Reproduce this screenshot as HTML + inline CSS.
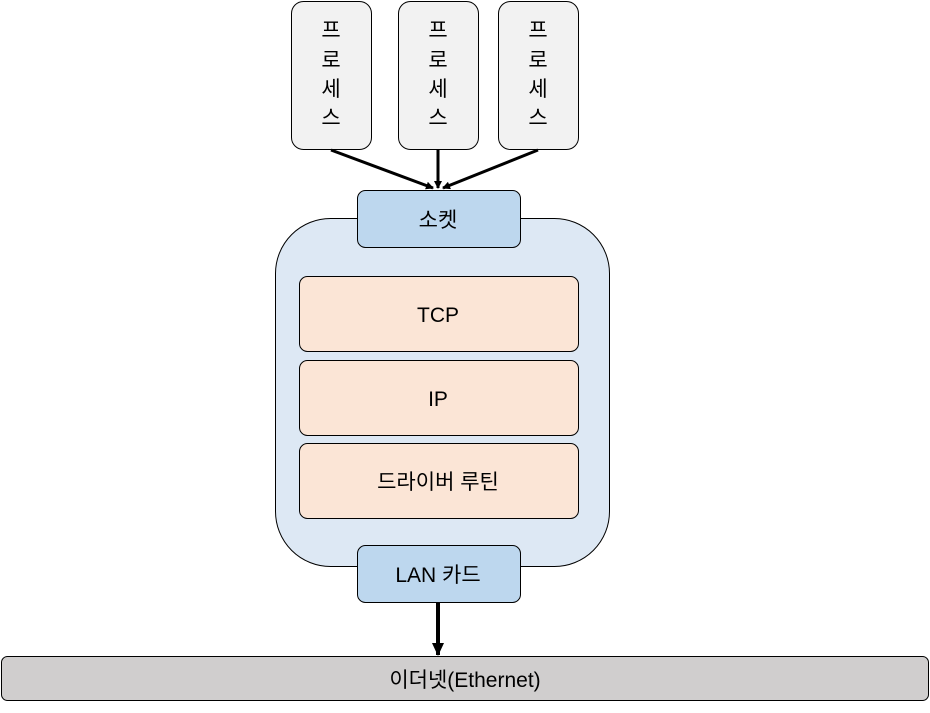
<!DOCTYPE html>
<html><head><meta charset="utf-8"><style>
body{margin:0;background:#fff;}
svg text{font-family:"Liberation Sans","Noto Sans CJK KR",sans-serif;fill:#000;}
</style></head><body>
<svg width="930" height="708" viewBox="0 0 930 708" xmlns="http://www.w3.org/2000/svg">
<defs>
<marker id="ah" markerWidth="8" markerHeight="8" refX="7" refY="4" orient="auto" markerUnits="userSpaceOnUse"><path d="M0,0 L8,4 L0,8 Z" fill="#000"/></marker>
<marker id="ah2" markerWidth="14" markerHeight="14" refX="12" refY="7" orient="auto" markerUnits="userSpaceOnUse"><path d="M0,1 L13,7 L0,13 Z" fill="#000"/></marker>
</defs>
<g stroke="#000" stroke-width="1" fill="#f2f2f2">
<rect x="291.5" y="1.5" width="80" height="148" rx="12"/>
<rect x="398.5" y="1.5" width="80" height="148" rx="12"/>
<rect x="498.5" y="1.5" width="80" height="148" rx="12"/>
</g>
<g font-size="21" text-anchor="middle">
<text x="331" y="37">프</text><text x="331" y="67">로</text><text x="331" y="96">세</text><text x="331" y="125">스</text>
<text x="438" y="37">프</text><text x="438" y="67">로</text><text x="438" y="96">세</text><text x="438" y="125">스</text>
<text x="538" y="37">프</text><text x="538" y="67">로</text><text x="538" y="96">세</text><text x="538" y="125">스</text>
</g>
<g stroke="#000" stroke-width="3" marker-end="url(#ah)">
<line x1="331" y1="150" x2="433" y2="188"/>
<line x1="438" y1="150" x2="438" y2="188"/>
<line x1="538" y1="150" x2="443" y2="188"/>
</g>
<rect x="275.5" y="218.5" width="334" height="348" rx="55" fill="#dde8f4" stroke="#000"/>
<rect x="357.5" y="190.5" width="163" height="57" rx="8" fill="#bdd7ee" stroke="#000"/>
<text x="438" y="227" font-size="21" text-anchor="middle">소켓</text>
<g fill="#fbe5d6" stroke="#000">
<rect x="299.5" y="276.5" width="279" height="75" rx="8"/>
<rect x="299.5" y="360.5" width="279" height="75" rx="8"/>
<rect x="299.5" y="443.5" width="279" height="75" rx="8"/>
</g>
<g font-size="21" text-anchor="middle">
<text x="438" y="322">TCP</text>
<text x="438" y="406">IP</text>
<text x="438" y="489">드라이버 루틴</text>
</g>
<rect x="357.5" y="545.5" width="163" height="57" rx="8" fill="#bdd7ee" stroke="#000"/>
<text x="438" y="582" font-size="21" text-anchor="middle">LAN 카드</text>
<line x1="438" y1="603" x2="438" y2="655" stroke="#000" stroke-width="4" marker-end="url(#ah2)"/>
<rect x="1.5" y="656.5" width="927" height="44" rx="6" fill="#d0cece" stroke="#000"/>
<text x="465" y="687" font-size="21" text-anchor="middle">이더넷(Ethernet)</text>
</svg>
</body></html>
